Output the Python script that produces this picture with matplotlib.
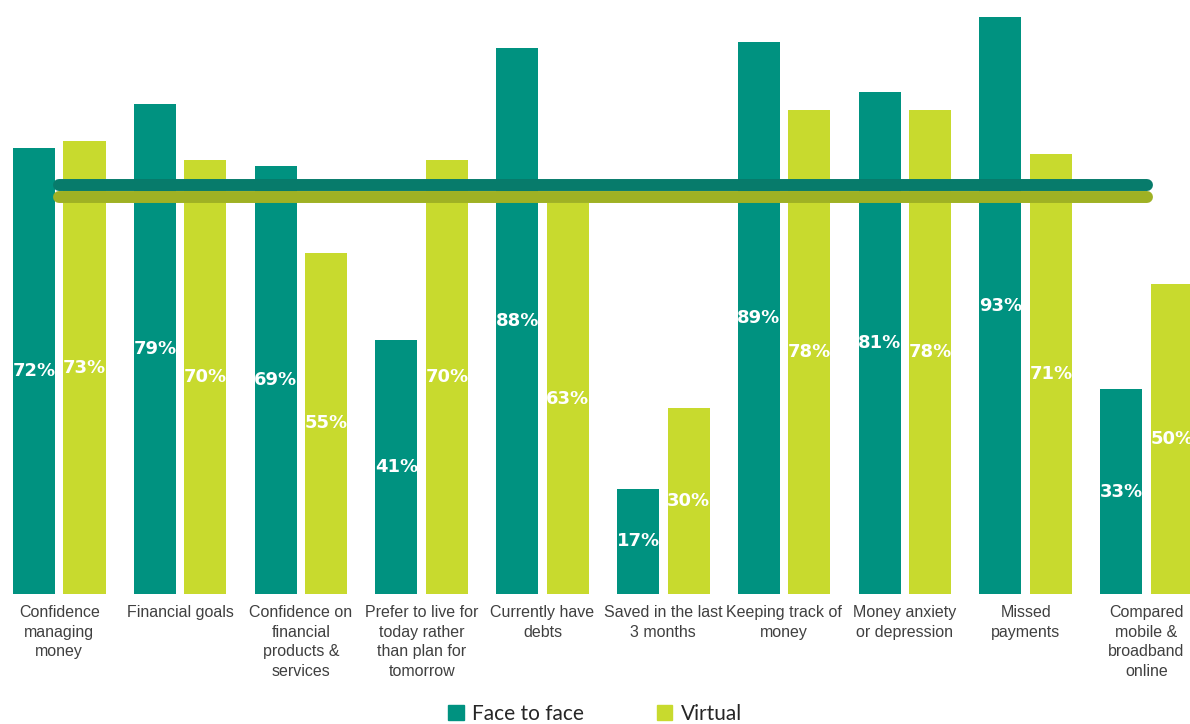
import matplotlib.pyplot as plt
from matplotlib.patches import Patch

categories = [
    "Confidence\nmanaging\nmoney",
    "Financial goals",
    "Confidence on\nfinancial\nproducts &\nservices",
    "Prefer to live for\ntoday rather\nthan plan for\ntomorrow",
    "Currently have\ndebts",
    "Saved in the last\n3 months",
    "Keeping track of\nmoney",
    "Money anxiety\nor depression",
    "Missed\npayments",
    "Compared\nmobile &\nbroadband\nonline",
]
face_to_face = [72, 79, 69, 41, 88, 17, 89, 81, 93, 33]
virtual = [73, 70, 55, 70, 63, 30, 78, 78, 71, 50]
avg_face = 66
avg_virtual = 64

teal = "#009280"
lime = "#C8DA2E"
teal_line = "#077B6B"
lime_line = "#9FB124"

fig = plt.figure(figsize=(11.9, 7.24), dpi=100)
ax = fig.add_axes([0, 1 - 594 / 724, 1, 594 / 724])

x = range(len(categories))
w = 0.348
off = 0.209
xf = [i - off for i in x]
xv = [i + off for i in x]
ax.bar(xf, face_to_face, width=w, color=teal, zorder=2)
ax.bar(xv, virtual, width=w, color=lime, zorder=2)

# average lines across all groups
ax.plot([0, len(categories) - 1], [avg_virtual, avg_virtual], color=lime_line,
        lw=8.6, solid_capstyle="round", zorder=3)
ax.plot([0, len(categories) - 1], [avg_face, avg_face], color=teal_line,
        lw=8.6, solid_capstyle="round", zorder=3)

for xs, vals in ((xf, face_to_face), (xv, virtual)):
    for xi, v in zip(xs, vals):
        ax.text(xi, v / 2, f"{v}%", ha="center", va="center", color="white",
                fontsize=13, fontweight="bold", family="DejaVu Sans", zorder=4)

for i, c in enumerate(categories):
    ax.text(i, -1.8, c, ha="center", va="top", fontsize=11.5, color="#404040",
            family="Liberation Sans", linespacing=1.38, clip_on=False)

ax.set_xlim(-0.4905, 9.36)
ax.set_ylim(0, 95.8)
ax.axis("off")

handles = [Patch(color=teal, label="Face to face"), Patch(color=lime, label="Virtual")]
fig.legend(handles=handles, loc="lower center", bbox_to_anchor=(0.5, -0.026), ncol=2,
           frameon=False, handlelength=0.75, handleheight=0.75, handletextpad=0.4,
           columnspacing=3.5, prop={"family": "Lato", "size": 15}, labelcolor="#262626")

fig.savefig("out.png", dpi=100)
